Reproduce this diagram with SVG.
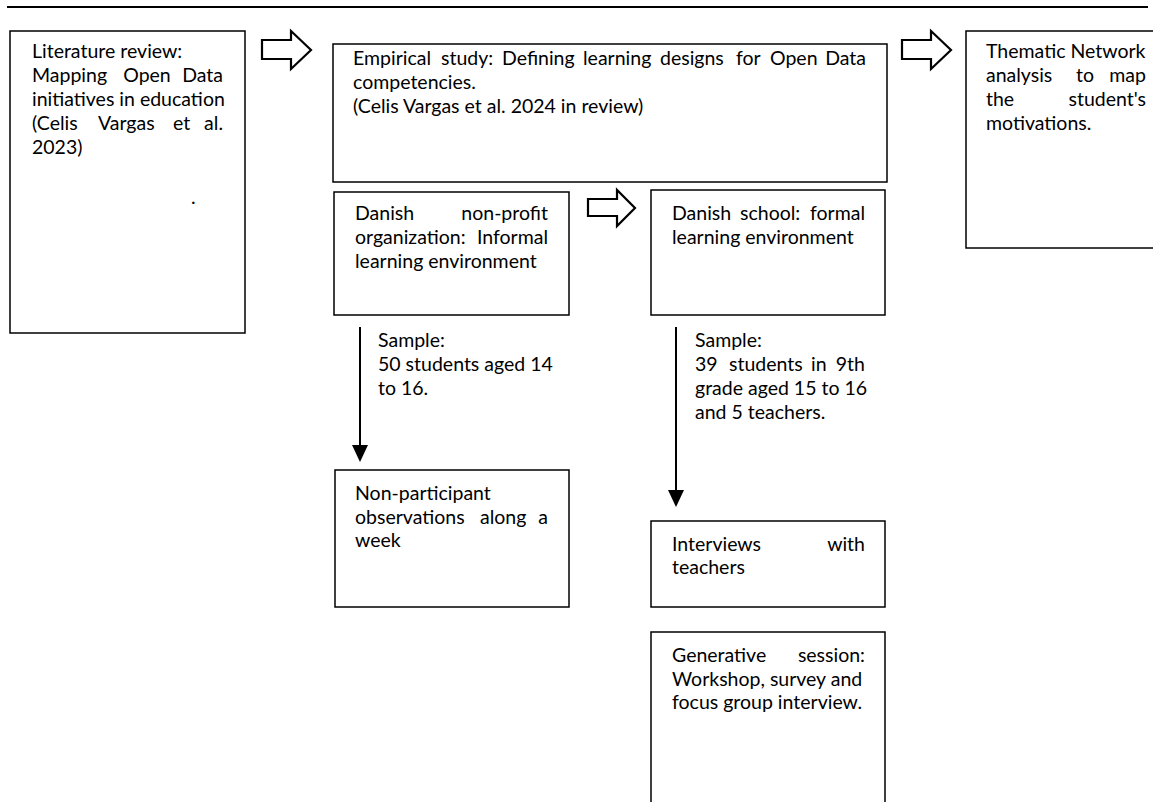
<svg xmlns="http://www.w3.org/2000/svg" width="1153" height="802" viewBox="0 0 1153 802">
<style>
.box{fill:#fff;stroke:#000;stroke-width:1.5}
.blk{fill:#fff;stroke:#000;stroke-width:2.2;stroke-linejoin:miter}
.t{font-family:Lato,"Liberation Sans",sans-serif;font-size:19.5px;fill:#000}
.e{text-anchor:end}
.m{text-anchor:middle}
.ln{stroke:#000;stroke-width:2;fill:none}
</style>
<defs>
<marker id="ah" viewBox="0 0 17 16" refX="13" refY="8" markerWidth="17" markerHeight="16" markerUnits="userSpaceOnUse" orient="auto">
<path d="M0,0 L17,8 L0,16 Z" fill="#000"/>
</marker>
</defs>
<rect width="1153" height="802" fill="#fff"/>
<line x1="7" y1="7" x2="1148" y2="7" stroke="#000" stroke-width="2"/>

<g id="lit">
<rect class="box" x="10" y="31" width="235" height="302"/>
<text class="t" x="32" y="58">Literature review:</text>
<text class="t" y="82"><tspan x="32">Mapping</tspan><tspan class="m" x="147">Open</tspan><tspan class="e" x="223">Data</tspan></text>
<text class="t" x="32" y="106">initiatives in education</text>
<text class="t" y="130"><tspan x="32">(Celis</tspan><tspan x="98">Vargas</tspan><tspan x="173">et</tspan><tspan class="e" x="223">al.</tspan></text>
<text class="t" x="32" y="154">2023)</text>
<text class="t" x="191" y="204">.</text>
</g>

<g id="empirical">
<rect class="box" x="333" y="44" width="554" height="138"/>
<text class="t" y="65"><tspan x="353">Empirical</tspan><tspan x="441">study:</tspan><tspan x="502">Defining</tspan><tspan x="583">learning</tspan><tspan x="660">designs</tspan><tspan x="736">for</tspan><tspan x="770">Open</tspan><tspan class="e" x="866">Data</tspan></text>
<text class="t" x="353" y="89">competencies.</text>
<text class="t" x="353" y="113">(Celis Vargas et al. 2024 in review)</text>
</g>

<g id="thematic">
<rect class="box" x="966" y="31" width="200" height="217"/>
<text class="t" x="986" y="58">Thematic Network</text>
<text class="t" y="82"><tspan x="986">analysis</tspan><tspan x="1076">to</tspan><tspan class="e" x="1146">map</tspan></text>
<text class="t" y="106"><tspan x="986">the</tspan><tspan class="e" x="1146">student's</tspan></text>
<text class="t" x="986" y="130">motivations.</text>
</g>

<g id="nonprofit">
<rect class="box" x="334" y="192" width="235" height="123"/>
<text class="t" y="220"><tspan x="355">Danish</tspan><tspan class="e" x="548">non-profit</tspan></text>
<text class="t" y="244"><tspan x="355">organization:</tspan><tspan class="e" x="548">Informal</tspan></text>
<text class="t" x="355" y="268">learning environment</text>
</g>

<g id="school">
<rect class="box" x="651" y="190" width="234" height="125"/>
<text class="t" y="220"><tspan x="672">Danish</tspan><tspan x="740">school:</tspan><tspan class="e" x="865">formal</tspan></text>
<text class="t" x="672" y="244">learning environment</text>
</g>

<g id="observations">
<rect class="box" x="335" y="470" width="234" height="137"/>
<text class="t" x="355" y="500">Non-participant</text>
<text class="t" y="524"><tspan x="355">observations</tspan><tspan x="480">along</tspan><tspan class="e" x="548">a</tspan></text>
<text class="t" x="355" y="547">week</text>
</g>

<g id="interviews">
<rect class="box" x="651" y="521" width="234" height="86"/>
<text class="t" y="551"><tspan x="672">Interviews</tspan><tspan class="e" x="865">with</tspan></text>
<text class="t" x="672" y="574">teachers</text>
</g>

<g id="generative">
<path class="box" d="M651,805 V632 H885 V805"/>
<text class="t" y="662"><tspan x="672">Generative</tspan><tspan class="e" x="865">session:</tspan></text>
<text class="t" x="672" y="686">Workshop, survey and</text>
<text class="t" x="672" y="709">focus group interview.</text>
</g>

<g id="connectors">
<polygon class="blk" points="262,40 291,40 291,31 311,50 291,69 291,59 262,59"/>
<polygon class="blk" points="902,40 931,40 931,31 951,50 931,69 931,59 902,59"/>
<polygon class="blk" points="588,199 617,199 617,190 635,208 617,226 617,216 588,216"/>
<line class="ln" x1="360" y1="327" x2="360" y2="458" marker-end="url(#ah)"/>
<line class="ln" x1="676" y1="327" x2="676" y2="503" marker-end="url(#ah)"/>
<text class="t" x="378" y="347">Sample:</text>
<text class="t" x="378" y="371">50 students aged 14</text>
<text class="t" x="378" y="395">to 16.</text>
<text class="t" x="695" y="347">Sample:</text>
<text class="t" y="371"><tspan x="695">39</tspan><tspan x="729">students</tspan><tspan x="811">in</tspan><tspan class="e" x="865">9th</tspan></text>
<text class="t" x="695" y="395">grade aged 15 to 16</text>
<text class="t" x="695" y="419">and 5 teachers.</text>
</g>
</svg>
